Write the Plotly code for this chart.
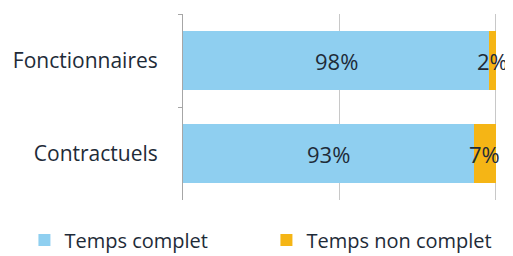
import plotly.graph_objects as go

categories = ["Fonctionnaires", "Contractuels"]
temps_complet = [98, 93]
temps_non_complet = [2, 7]
series_names = ["Temps complet", "Temps non complet"]

blue = "#8FCFF0"
gold = "#F5B515"
text_col = "#1E2B38"
font_family = "Open Sans, Noto Sans, sans-serif"

fig = go.Figure()
fig.add_trace(go.Bar(y=categories, x=temps_complet, orientation="h", name=series_names[0],
                     marker=dict(color=blue, line=dict(width=0))))
fig.add_trace(go.Bar(y=categories, x=temps_non_complet, orientation="h", name=series_names[1],
                     marker=dict(color=gold, line=dict(width=0))))

annotations = []
for cat, a, b in zip(categories, temps_complet, temps_non_complet):
    annotations.append(dict(x=a / 2, y=cat, text=f"{a}%", showarrow=False, xref="x", yref="y",
                            font=dict(size=22, color=text_col, family=font_family)))
    annotations.append(dict(x=a + b / 2, y=cat, text=f"{b}%", showarrow=False, xref="x", yref="y",
                            font=dict(size=22, color=text_col, family=font_family)))

# page body has an 8px default margin, so the figure is drawn 8px smaller and offset
fig.update_layout(
    barmode="stack",
    width=505, height=248,
    margin=dict(l=175, r=16, t=6, b=56, autoexpand=False),
    paper_bgcolor="white", plot_bgcolor="white",
    bargap=0.37,
    showlegend=True,
    legend=dict(orientation="h", x=-0.505, xanchor="left", y=-0.215, yanchor="middle",
                traceorder="normal",
                font=dict(size=20, color=text_col, family=font_family),
                itemwidth=30, entrywidth=197, entrywidthmode="pixels",
                bgcolor="rgba(0,0,0,0)"),
    annotations=annotations,
    font=dict(family=font_family, color=text_col),
)
fig.update_xaxes(range=[0, 100.4], showticklabels=False, showgrid=True, gridcolor="#C8C8C8",
                 gridwidth=1, dtick=50, zeroline=False, showline=False, fixedrange=True)
fig.update_yaxes(autorange="reversed", showline=True, linecolor="#A6A6A6", linewidth=1,
                 ticks="outside", tickson="boundaries", ticklen=4, tickcolor="#A6A6A6",
                 tickfont=dict(size=21, color=text_col, family=font_family),
                 ticklabelstandoff=20, showgrid=False)

fig.write_html("out.html")
